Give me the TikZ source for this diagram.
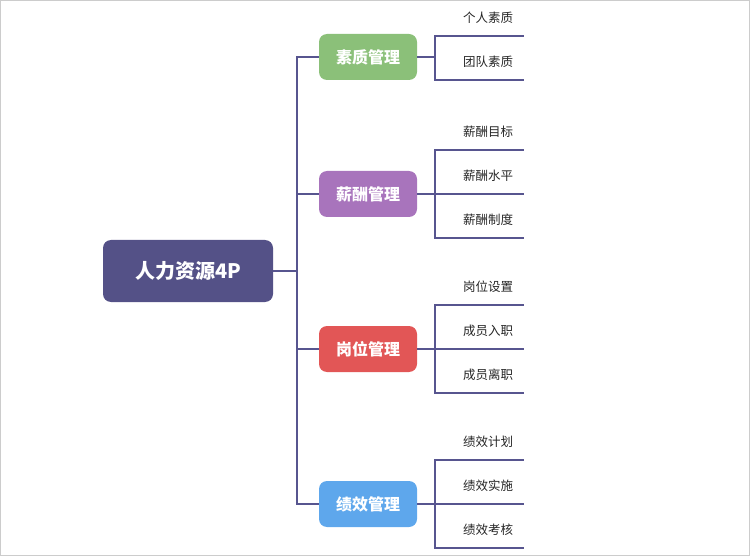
\documentclass[tikz,border=0pt]{standalone}
\usepackage{fontspec}
\setmainfont{Noto Sans CJK SC}
\usepackage{xcolor}
\usetikzlibrary{positioning,calc}
\definecolor{rootcol}{HTML}{545187}
\definecolor{linecol}{HTML}{57558F}
\definecolor{qualitycol}{HTML}{8BC079}
\definecolor{salarycol}{HTML}{A874BC}
\definecolor{postcol}{HTML}{E25656}
\definecolor{perfcol}{HTML}{5EA7EC}

\begin{document}
\begin{tikzpicture}[x=1pt, y=-1pt, link/.style={draw=linecol, line width=1.5pt}]
    \useasboundingbox (0,0) rectangle (750,556);
    \draw[black!20, line width=1pt] (0.5,0.5) rectangle (749.5,555.5);

    %Nodes
    \node (hr_4p) [rectangle, rounded corners=8pt, fill=rootcol, text=white, font=\bfseries\fontsize{20}{24}\selectfont, minimum width=170pt, minimum height=62pt] at (188,271) {人力资源4P};

    \begin{scope}[every node/.style={rectangle, rounded corners=8pt, outer sep=0pt, text=white, font=\bfseries\fontsize{16}{19}\selectfont, minimum width=98pt, minimum height=46pt}]
    \node (quality_mgmt) [fill=qualitycol] at (368,57)  {素质管理};
    \node (salary_mgmt)  [fill=salarycol]  at (368,194) {薪酬管理};
    \node (post_mgmt)    [fill=postcol]    at (368,349) {岗位管理};
    \node (perf_mgmt)    [fill=perfcol]    at (368,504) {绩效管理};
    \end{scope}

    \begin{scope}[node distance=8pt, every node/.style={rectangle, inner sep=0pt, outer sep=0pt, text=black!85, font=\fontsize{12.5}{15}\selectfont, minimum width=72pt, minimum height=36pt}]
    \node (quality_personal) [anchor=south]                 at (488,36)  {个人素质};
    \node (quality_team)     [below=of quality_personal]                 {团队素质};
    \node (salary_goal)      [anchor=south]                 at (488,150) {薪酬目标};
    \node (salary_level)     [below=of salary_goal]                      {薪酬水平};
    \node (salary_system)    [below=of salary_level]                     {薪酬制度};
    \node (post_setup)       [anchor=south]                 at (488,305) {岗位设置};
    \node (post_entry)       [below=of post_setup]                       {成员入职};
    \node (post_leave)       [below=of post_entry]                       {成员离职};
    \node (perf_plan)        [anchor=south]                 at (488,460) {绩效计划};
    \node (perf_run)         [below=of perf_plan]                        {绩效实施};
    \node (perf_review)      [below=of perf_run]                         {绩效考核};
    \end{scope}

    % Fork points
    \coordinate (trunk)        at ($(hr_4p.east)+(24,0)$);
    \coordinate (quality_fork) at ($(quality_mgmt.east)+(18,0)$);
    \coordinate (salary_fork)  at ($(salary_mgmt.east)+(18,0)$);
    \coordinate (post_fork)    at ($(post_mgmt.east)+(18,0)$);
    \coordinate (perf_fork)    at ($(perf_mgmt.east)+(18,0)$);

    %Lines
    \draw[link] (hr_4p.east) -- (trunk);
    \draw[link] (trunk) |- (quality_mgmt.west);
    \draw[link] (trunk) |- (salary_mgmt.west);
    \draw[link] (trunk) |- (post_mgmt.west);
    \draw[link] (trunk) |- (perf_mgmt.west);

    \draw[link] (quality_mgmt.east) -- (quality_fork);
    \draw[link] (salary_mgmt.east)  -- (salary_fork);
    \draw[link] (post_mgmt.east)    -- (post_fork);
    \draw[link] (perf_mgmt.east)    -- (perf_fork);

    \draw[link] (quality_fork) |- (quality_personal.south west) -- (quality_personal.south east);
    \draw[link] (quality_fork) |- (quality_team.south west)     -- (quality_team.south east);
    \draw[link] (salary_fork)  |- (salary_goal.south west)      -- (salary_goal.south east);
    \draw[link] (salary_fork)  |- (salary_level.south west)     -- (salary_level.south east);
    \draw[link] (salary_fork)  |- (salary_system.south west)    -- (salary_system.south east);
    \draw[link] (post_fork)    |- (post_setup.south west)       -- (post_setup.south east);
    \draw[link] (post_fork)    |- (post_entry.south west)       -- (post_entry.south east);
    \draw[link] (post_fork)    |- (post_leave.south west)       -- (post_leave.south east);
    \draw[link] (perf_fork)    |- (perf_plan.south west)        -- (perf_plan.south east);
    \draw[link] (perf_fork)    |- (perf_run.south west)         -- (perf_run.south east);
    \draw[link] (perf_fork)    |- (perf_review.south west)      -- (perf_review.south east);
\end{tikzpicture}
\end{document}
